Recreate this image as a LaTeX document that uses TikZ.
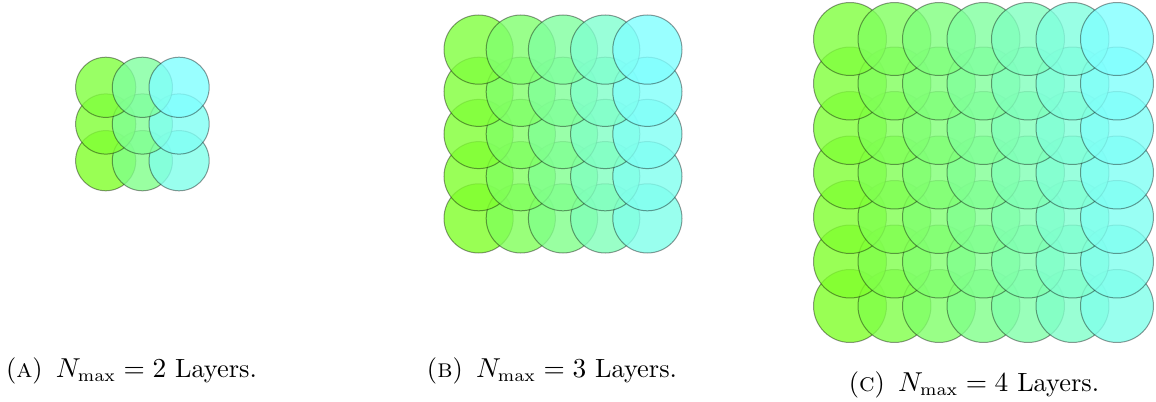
\documentclass[tikz,border=0pt]{standalone}
\usepackage{amsmath}
\usepackage{tikz}
\tikzset{
  cell/.style={circle, draw=black, draw opacity=0.4, line width=0.4pt,
               fill opacity=0.8, inner sep=0pt, outer sep=0pt},
  subcap/.style={anchor=base, font=\fontsize{10.55}{12.6}\selectfont},
}
\definecolor{cellcyan}{rgb}{0.5,1,1}
\definecolor{celllime}{rgb}{0.5,1,0.16}
% #1 name, #2 cells per side, #3/#4 centre, #5 spacing
\newcommand{\cellgrid}[5]{%
  \foreach \j in {#2,...,1} {
    \foreach \i in {1,...,#2} {
      \pgfmathsetmacro{\u}{(\i-1)/(#2-1)}
      \pgfmathsetmacro{\v}{(\j-1)/(#2-1)}
      \pgfmathsetmacro{\mix}{100*(0.9*\u+0.1*(1-\v))}
      \node[cell, fill=cellcyan!\mix!celllime, minimum size={1.64*#5*0.4pt}]
        (#1-\i-\j) at ({#3+(\i-(#2+1)/2)*#5}, {#4-(\j-(#2+1)/2)*#5}) {};
    }
  }%
}

\begin{document}
\begin{tikzpicture}[x=0.4pt, y=0.4pt]
  \useasboundingbox (0,0) rectangle (1156,401);
  \cellgrid{a}{3}{142.4}{277}{36.7}
  \cellgrid{b}{5}{563}{267}{42.2}
  \cellgrid{c}{7}{983.5}{228.5}{44.5}
  \node[subcap] (capa) at (131.5,23.3) {(\textsc{a})\enskip$N_{\max} = 2$ Layers.};
  \node[subcap] (capb) at (552,23.3) {(\textsc{b})\enskip$N_{\max} = 3$ Layers.};
  \node[subcap] (capc) at (974,10) {(\textsc{c})\enskip$N_{\max} = 4$ Layers.};
\end{tikzpicture}
\end{document}
